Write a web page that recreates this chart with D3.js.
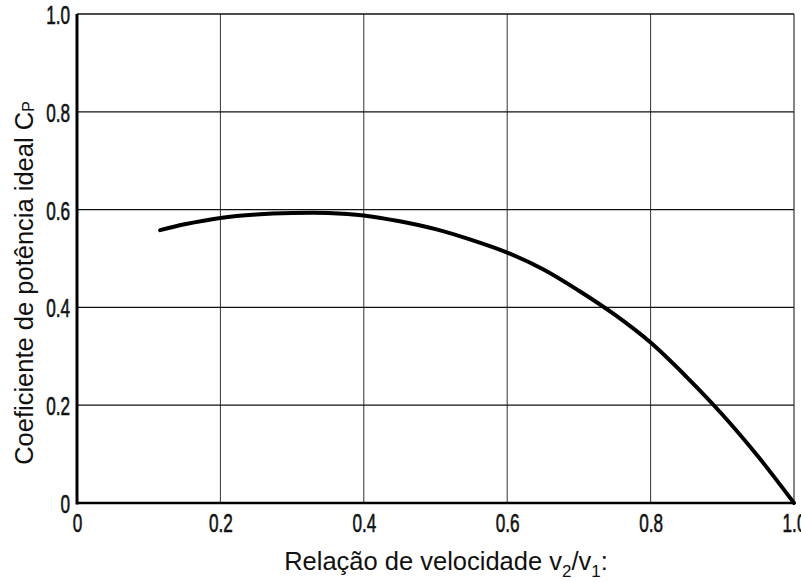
<!DOCTYPE html>
<html><head><meta charset="utf-8">
<script src="https://cdn.jsdelivr.net/npm/d3@7"></script>
<style>body{margin:0;background:#fff}</style>
</head><body>
<svg id="c" width="801" height="582"></svg>
<script>
const ratio = [0.116,0.15,0.2,0.25,0.3,0.35,0.4,0.45,0.5,0.55,0.6,0.65,0.7,0.75,0.8,0.85,0.9,0.95,1.0];
const cp    = [0.558,0.570,0.583,0.590,0.593,0.593,0.588,0.576,0.560,0.538,0.512,0.478,0.434,0.385,0.328,0.258,0.181,0.095,0.0];
const xTicks = [0,0.2,0.4,0.6,0.8,1.0];
const yTicks = [0,0.2,0.4,0.6,0.8,1.0];
const xTickLabels = ["0","0.2","0.4","0.6","0.8","1.0"];
const yTickLabels = ["0","0.2","0.4","0.6","0.8","1.0"];

const svg = d3.select("#c");
const L=77, R=794, T=14, B=503;
const x = d3.scaleLinear().domain([0,1]).range([L,R]);
const y = d3.scaleLinear().domain([0,1]).range([B,T]);
const tickFont = "'Liberation Sans',Arial,sans-serif";
const SX = 0.66;

// grid
svg.append("g").selectAll("line").data(xTicks.slice(1,-1)).join("line")
  .attr("x1",d=>x(d)).attr("x2",d=>x(d)).attr("y1",T).attr("y2",B)
  .attr("stroke","#333").attr("stroke-width",1);
svg.append("g").selectAll("line").data(yTicks.slice(1,-1)).join("line")
  .attr("y1",d=>y(d)).attr("y2",d=>y(d)).attr("x1",L).attr("x2",R)
  .attr("stroke","#111").attr("stroke-width",1.2);
// borders
svg.append("line").attr("x1",L).attr("x2",R).attr("y1",T).attr("y2",T).attr("stroke","#111").attr("stroke-width",1.3);
svg.append("line").attr("x1",R).attr("x2",R).attr("y1",T).attr("y2",B).attr("stroke","#333").attr("stroke-width",1.2);
svg.append("line").attr("x1",L).attr("x2",L).attr("y1",T).attr("y2",B+1.5).attr("stroke","#000").attr("stroke-width",3);
svg.append("line").attr("x1",L).attr("x2",R).attr("y1",B).attr("y2",B).attr("stroke","#000").attr("stroke-width",2.5);

// axes labels
const xa = d3.axisBottom(x).tickValues(xTicks).tickFormat((d,i)=>xTickLabels[i]).tickSize(0);
const gx = svg.append("g").attr("transform",`translate(0,${B})`).call(xa);
gx.select(".domain").remove();
gx.selectAll("text").attr("font-family",tickFont).attr("font-size",26).attr("fill","#111")
  .attr("stroke","#111").attr("stroke-width",0.6)
  .attr("x",0).attr("y",29).attr("dy",0).attr("transform",`scale(${SX},1)`);
const ya = d3.axisLeft(y).tickValues(yTicks).tickFormat((d,i)=>yTickLabels[i]).tickSize(0);
const gy = svg.append("g").attr("transform",`translate(${L},0)`).call(ya);
gy.select(".domain").remove();
gy.selectAll("text").attr("font-family",tickFont).attr("font-size",26).attr("fill","#111")
  .attr("stroke","#111").attr("stroke-width",0.6)
  .attr("x",-7/SX).attr("y",9.5).attr("dy",0).attr("transform",`scale(${SX},1)`);

// curve
const data = ratio.map((r,i)=>[r,cp[i]]);
svg.append("path").datum(data)
  .attr("d", d3.line().x(d=>x(d[0])).y(d=>y(d[1])).curve(d3.curveCatmullRom))
  .attr("fill","none").attr("stroke","#000").attr("stroke-width",4).attr("stroke-linecap","round");

// titles
const titleFont = "'Liberation Sans',Arial,sans-serif";
const xt = svg.append("text").attr("x",446).attr("y",570).attr("text-anchor","middle")
  .attr("font-family",titleFont).attr("font-size",25.5).attr("fill","#111");
xt.append("tspan").text("Relação de velocidade v");
xt.append("tspan").text("2").attr("font-size",17).attr("dy",7);
xt.append("tspan").text("/v").attr("dy",-7);
xt.append("tspan").text("1").attr("font-size",17).attr("dy",7);
xt.append("tspan").text(":").attr("dy",-7);

const yt = svg.append("text").attr("transform","translate(33,283) rotate(-90)").attr("text-anchor","middle")
  .attr("font-family",titleFont).attr("font-size",25.5).attr("fill","#111");
yt.append("tspan").text("Coeficiente de potência ideal C");
yt.append("tspan").text("P").attr("font-size",16).attr("dy",1);
</script>
</body></html>
